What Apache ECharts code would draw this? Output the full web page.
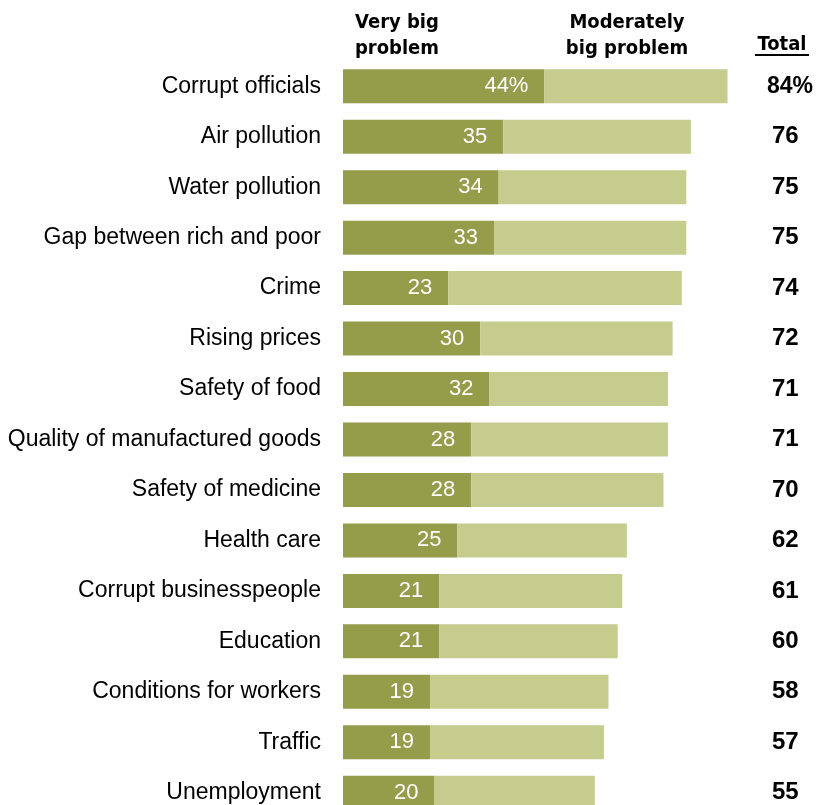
<!DOCTYPE html>
<html>
<head>
<meta charset="utf-8">
<script src="https://cdn.jsdelivr.net/npm/echarts@6/dist/echarts.min.js"></script>
<style>html,body{margin:0;padding:0;background:#fff;}#chart{width:825px;height:805px;}</style>
</head>
<body>
<div id="chart"></div>
<script>
const categories = ["Corrupt officials","Air pollution","Water pollution","Gap between rich and poor","Crime","Rising prices","Safety of food","Quality of manufactured goods","Safety of medicine","Health care","Corrupt businesspeople","Education","Conditions for workers","Traffic","Unemployment"];
const veryBig = [44,35,34,33,23,30,32,28,28,25,21,21,19,19,20];
const moderately = [40,41,41,42,51,42,39,43,42,37,40,39,39,38,35];
const totals = [84,76,75,75,74,72,71,71,70,62,61,60,58,57,55];

const chart = echarts.init(document.getElementById('chart'));
const font = 'Liberation Sans, Arial, sans-serif';
const headFont = '"Liberation Sans Narrow", "DejaVu Sans Condensed", Arial, sans-serif';
chart.setOption({
  animation: false,
  grid: {left: 343, top: 61, width: 412, height: 757, containLabel: false, outerBoundsMode: 'none'},
  xAxis: {type: 'value', min: 0, max: 90, show: false},
  yAxis: [
    {type: 'category', data: categories, inverse: true,
     axisLine: {show: false}, axisTick: {show: false},
     axisLabel: {fontSize: 23, color: '#000', margin: 22, fontFamily: font}},
    {type: 'category', data: totals, inverse: true, position: 'right',
     axisLine: {show: false}, axisTick: {show: false},
     axisLabel: {align: 'left', margin: 12, fontFamily: font,
       formatter: (v, i) => i === 0 ? '{f|' + v + '%}' : '{n|' + v + '}',
       rich: {
         n: {fontSize: 24, fontWeight: 'bold', color: '#000', fontFamily: font, padding: [0,0,0,5]},
         f: {fontSize: 23, fontWeight: 'bold', color: '#000', fontFamily: font}
       }}}
  ],
  series: [
    {type: 'bar', stack: 's', data: veryBig, barWidth: 34, itemStyle: {color: '#959C4A'},
     label: {show: true, position: 'insideRight', distance: 16, color: '#fff', fontSize: 22, fontFamily: font,
       formatter: p => p.dataIndex === 0 ? p.value + '%' : String(p.value)}},
    {type: 'bar', stack: 's', data: moderately, barWidth: 34, itemStyle: {color: '#C5CC8E'}}
  ],
  graphic: [
    {type: 'text', style: {text: 'Very big\nproblem', x: 397, y: 10, textAlign: 'center', font: 'bold 20px ' + headFont, fill: '#000', lineHeight: 26}},
    {type: 'text', style: {text: 'Moderately\nbig problem', x: 627, y: 10, textAlign: 'center', font: 'bold 20px ' + headFont, fill: '#000', lineHeight: 26}},
    {type: 'text', style: {text: 'Total', x: 782, y: 35, textAlign: 'center', font: 'bold 20px ' + headFont, fill: '#000'}},
    {type: 'line', shape: {x1: 755, y1: 55, x2: 809, y2: 55}, style: {stroke: '#000', lineWidth: 2}}
  ]
});
</script>
</body>
</html>
